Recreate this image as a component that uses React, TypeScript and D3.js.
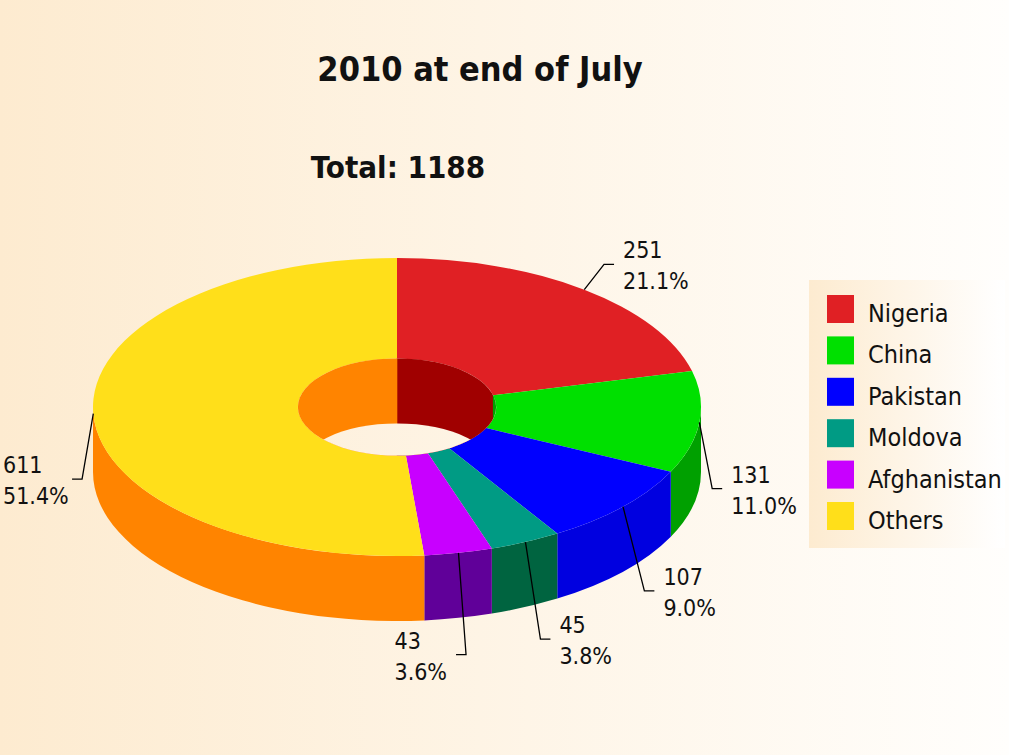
import { useEffect, useRef } from 'react';
import * as d3 from 'd3';

const countries = ['Nigeria', 'China', 'Pakistan', 'Moldova', 'Afghanistan', 'Others'];
const cases = [251, 131, 107, 45, 43, 611];
const topColors = ['#e02024', '#00e000', '#0000ff', '#009b84', '#c800ff', '#ffdf1a'];
const sideColors = ['#a00000', '#00a000', '#0000e0', '#006440', '#600099', '#ff8400'];

const W = 1009;
const H = 755;
const FONT = "'DejaVu Sans Condensed', 'Liberation Sans', sans-serif";

const App = () => {
  const svgRef = useRef<SVGSVGElement>(null);

  useEffect(() => {
    if (!svgRef.current) return;
    const svg = d3.select(svgRef.current);
    svg.selectAll('*').remove();

    // pie geometry (ellipse on screen)
    const cx = 397, cy = 407, rx = 304, ry = 149, depth = 65, hole = 0.326;
    const k = ry / rx;

    const defs = svg.append('defs');
    const bg = defs.append('linearGradient').attr('id', 'bg')
      .attr('gradientUnits', 'userSpaceOnUse')
      .attr('x1', 0).attr('y1', 0).attr('x2', W).attr('y2', 0);
    bg.append('stop').attr('offset', 0).attr('stop-color', '#fdebd0');
    bg.append('stop').attr('offset', 1).attr('stop-color', '#fffefc');

    const lg = defs.append('linearGradient').attr('id', 'legendBg')
      .attr('x1', 0).attr('y1', 0).attr('x2', 1).attr('y2', 0);
    lg.append('stop').attr('offset', 0).attr('stop-color', '#fdebd0');
    lg.append('stop').attr('offset', 1).attr('stop-color', '#ffffff');

    defs.append('clipPath').attr('id', 'holeClip')
      .append('ellipse')
      .attr('cx', cx).attr('cy', cy).attr('rx', rx * hole).attr('ry', ry * hole);

    svg.append('rect').attr('width', W).attr('height', H).attr('fill', 'url(#bg)');

    const total = d3.sum(cases);
    const pie = d3.pie<number>().sort(null).value(d => d);
    const arcs = pie(cases);

    // titles
    svg.append('text')
      .attr('x', 480).attr('y', 81)
      .attr('text-anchor', 'middle')
      .style('font', `bold 34px ${FONT}`)
      .attr('fill', '#111')
      .text('2010 at end of July');
    svg.append('text')
      .attr('x', cx + 1).attr('y', 178)
      .attr('text-anchor', 'middle')
      .style('font', `bold 31px ${FONT}`)
      .attr('fill', '#111')
      .text(`Total: ${total}`);

    // pie in a squashed circle space
    const g = svg.append('g').attr('transform', `translate(${cx},${cy}) scale(1,${k})`);
    const R = rx;
    const r = rx * hole;
    const D = depth / k;
    const HALF = Math.PI / 2;

    // front outer wall
    arcs.forEach((a, i) => {
      const s = Math.max(a.startAngle, HALF);
      const e = Math.min(a.endAngle, 3 * HALF);
      if (e <= s) return;
      const p = d3.path();
      p.arc(0, 0, R, s - HALF, e - HALF);
      p.arc(0, D, R, e - HALF, s - HALF, true);
      p.closePath();
      g.append('path').attr('d', p.toString()).attr('fill', sideColors[i]);
    });

    // top surface
    const arcGen = d3.arc<d3.PieArcDatum<number>>().innerRadius(r).outerRadius(R);
    g.selectAll('path.top')
      .data(arcs)
      .join('path')
      .attr('class', 'top')
      .attr('d', arcGen)
      .attr('fill', (_d, i) => topColors[i]);

    // hole: back inner wall + ground seen through the hole
    const hg = svg.append('g').attr('clip-path', 'url(#holeClip)');
    const rxi = rx * hole, ryi = ry * hole;
    const backRanges: [number, number][] = [[0, HALF], [3 * HALF, 4 * HALF]];
    arcs.forEach((a, i) => {
      backRanges.forEach(([lo, hi]) => {
        const s = Math.max(a.startAngle, lo);
        const e = Math.min(a.endAngle, hi);
        if (e <= s) return;
        const x1 = cx + rxi * Math.sin(s);
        const x2 = cx + rxi * Math.sin(e);
        hg.append('rect')
          .attr('x', Math.min(x1, x2) - 0.3)
          .attr('y', cy - ryi - 2)
          .attr('width', Math.abs(x2 - x1) + 0.6)
          .attr('height', 2 * ryi + 4)
          .attr('fill', sideColors[i]);
      });
    });
    hg.append('ellipse')
      .attr('cx', cx).attr('cy', cy + depth)
      .attr('rx', rxi).attr('ry', ryi)
      .attr('fill', 'url(#bg)');

    // leader lines and labels
    const pct = d3.format('.1%');
    arcs.forEach((a, i) => {
      const t = (a.startAngle + a.endAngle) / 2;
      const s = Math.sin(t), c = Math.cos(t);
      const tx = cx + rx * s;
      const ty = cy - ry * c;
      // front labels clear the side wall
      const by = ty + (c < 0 ? depth : 0);
      const L = 10 + 28 * Math.abs(c);
      const ex = tx + L * s;
      const ey = by - L * c;
      // labels close to the bottom apex go to the left
      const dir = s > 0.3 ? 1 : -1;
      const hx = ex + dir * 10;
      svg.append('path')
        .attr('d', `M${tx},${ty}L${ex},${ey}L${hx},${ey}`)
        .attr('fill', 'none')
        .attr('stroke', '#000')
        .attr('stroke-width', 1.3);
      const lab = svg.append('g')
        .style('font', `23px ${FONT}`)
        .attr('fill', '#111');
      const t1 = lab.append('text').attr('y', ey - 6).text(String(cases[i]));
      const t2 = lab.append('text').attr('y', ey + 25).text(pct(cases[i] / total));
      const w = Math.max(
        (t1.node() as SVGTextElement).getComputedTextLength(),
        (t2.node() as SVGTextElement).getComputedTextLength()
      );
      const x0 = dir > 0 ? hx + 9 : Math.max(3, hx - 9 - w);
      t1.attr('x', x0);
      t2.attr('x', x0);
    });

    // legend
    const legend = svg.append('g');
    legend.append('rect')
      .attr('x', 809).attr('y', 280)
      .attr('width', 196).attr('height', 268)
      .attr('fill', 'url(#legendBg)');
    const rowY = d3.scaleLinear().domain([0, 1]).range([295, 336.4]);
    const rows = legend.selectAll('g.row')
      .data(countries)
      .join('g')
      .attr('class', 'row')
      .attr('transform', (_d, i) => `translate(827,${rowY(i)})`);
    rows.append('rect')
      .attr('width', 27).attr('height', 28)
      .attr('fill', (_d, i) => topColors[i]);
    rows.append('text')
      .attr('x', 41).attr('y', 27)
      .style('font', `25px ${FONT}`)
      .attr('fill', '#111')
      .text(d => d);
  }, []);

  return (
    <svg
      ref={svgRef}
      width={W}
      height={H}
      style={{ position: 'absolute', left: 0, top: 0 }}
    />
  );
};

export default App;
